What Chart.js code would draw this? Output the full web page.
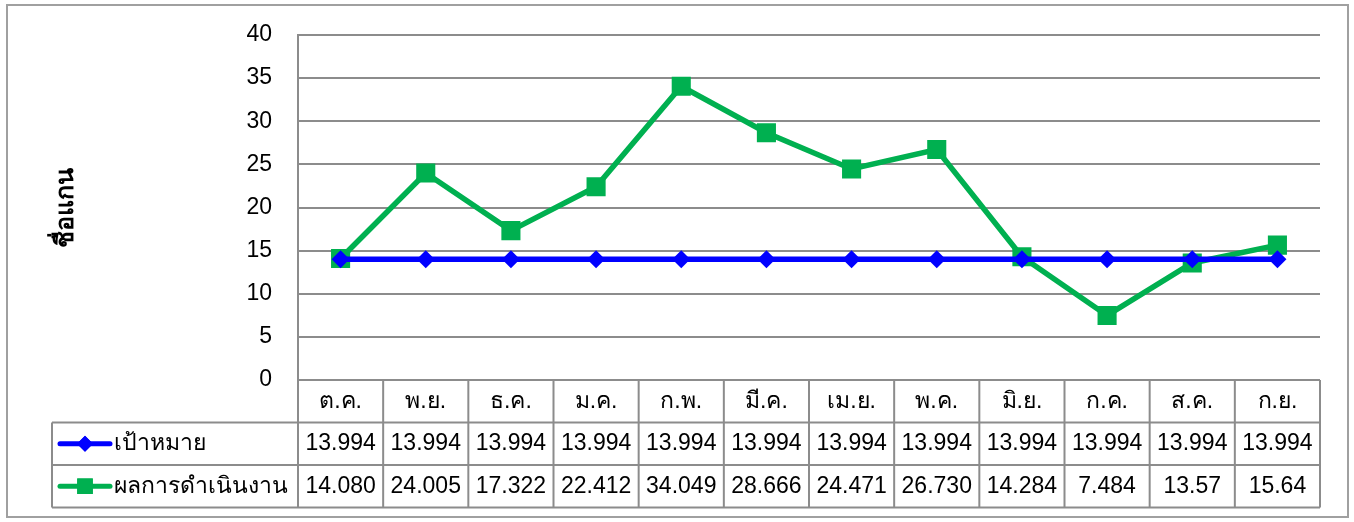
<!DOCTYPE html>
<html>
<head>
<meta charset="utf-8">
<script src="https://cdn.jsdelivr.net/npm/chart.js@4"></script>
<style>
    html, body { margin: 0; padding: 0; background: #fff; }
    #wrap { width: 1354px; height: 522px; position: relative; }
</style>
</head>
<body>
<div id="wrap"><canvas id="lineChart"></canvas></div>
<script>
// --- Data ---
const months = ['ต.ค.', 'พ.ย.', 'ธ.ค.', 'ม.ค.', 'ก.พ.', 'มี.ค.', 'เม.ย.', 'พ.ค.', 'มิ.ย.', 'ก.ค.', 'ส.ค.', 'ก.ย.'];
const targetText = ['13.994', '13.994', '13.994', '13.994', '13.994', '13.994', '13.994', '13.994', '13.994', '13.994', '13.994', '13.994'];
const actualText = ['14.080', '24.005', '17.322', '22.412', '34.049', '28.666', '24.471', '26.730', '14.284', '7.484', '13.57', '15.64'];
const targetValues = targetText.map(Number);
const actualValues = actualText.map(Number);
const seriesNames = ['เป้าหมาย', 'ผลการดำเนินงาน'];
const yTicks = [0, 5, 10, 15, 20, 25, 30, 35, 40];
const yTitle = 'ชื่อแกน';

const FONT = '"Liberation Sans", "Noto Sans", sans-serif';
const GRID = '#8c8c8c';
const BLUE = '#0000ff';
const GREEN = '#00b050';

// --- Frame, y title and data table below the plot ---
const tablePlugin = {
    id: 'dataTable',
    beforeDraw(chart) {
        const ctx = chart.ctx;
        ctx.save();
        ctx.strokeStyle = '#a0a0a0';
        ctx.lineWidth = 2;
        ctx.strokeRect(7, 5, 1341, 512);
        ctx.restore();
    },
    afterDraw(chart) {
        const ctx = chart.ctx;
        const area = chart.chartArea;
        const x = chart.scales.x;
        const colW = (area.right - area.left) / months.length;
        const top = area.bottom;
        const rowH = 42.5;
        const legendLeft = 52;
        const bottom = top + rowH * 3;

        ctx.save();
        ctx.strokeStyle = GRID;
        ctx.lineWidth = 2;
        ctx.beginPath();
        // horizontal lines
        ctx.moveTo(area.left, top); ctx.lineTo(area.right, top);
        for (let r = 1; r <= 3; r++) {
            ctx.moveTo(legendLeft, top + rowH * r); ctx.lineTo(area.right, top + rowH * r);
        }
        // vertical lines
        for (let c = 0; c <= months.length; c++) {
            const px = area.left + colW * c;
            ctx.moveTo(px, top); ctx.lineTo(px, bottom);
        }
        ctx.moveTo(legendLeft, top + rowH); ctx.lineTo(legendLeft, bottom);
        ctx.stroke();

        // texts
        ctx.fillStyle = '#000';
        ctx.font = '23px ' + FONT;
        ctx.textAlign = 'center';
        ctx.textBaseline = 'middle';
        months.forEach((m, i) => {
            const cx = x.getPixelForValue(i);
            ctx.fillText(m, cx, top + rowH * 0.5);
            ctx.fillText(targetText[i], cx, top + rowH * 1.5);
            ctx.fillText(actualText[i], cx, top + rowH * 2.5);
        });

        // legend keys
        const keys = [
            { color: BLUE, y: top + rowH * 1.5, style: 'rectRot', r: 8 },
            { color: GREEN, y: top + rowH * 2.5, style: 'rect', r: 11 }
        ];
        keys.forEach((k, i) => {
            ctx.strokeStyle = k.color;
            ctx.fillStyle = k.color;
            ctx.lineWidth = 5;
            ctx.lineCap = 'round';
            ctx.beginPath();
            ctx.moveTo(60, k.y); ctx.lineTo(110, k.y);
            ctx.stroke();
            Chart.helpers.drawPoint(ctx, { pointStyle: k.style, radius: k.r, borderWidth: 0 }, 85, k.y);
            ctx.fill();
            ctx.fillStyle = '#000';
            ctx.textAlign = 'left';
            ctx.fillText(seriesNames[i], 114, k.y);
        });

        // y axis title
        ctx.translate(66, (area.top + area.bottom) / 2);
        ctx.rotate(-Math.PI / 2);
        ctx.font = 'bold 25px ' + FONT;
        ctx.textAlign = 'center';
        ctx.fillStyle = '#000';
        ctx.fillText(yTitle, 0, 0);
        ctx.restore();
    }
};

const ctx = document.getElementById('lineChart').getContext('2d');
new Chart(ctx, {
    type: 'line',
    data: {
        labels: months,
        datasets: [{
            label: seriesNames[0],
            data: targetValues,
            borderColor: BLUE,
            backgroundColor: BLUE,
            borderWidth: 5.5,
            pointStyle: 'rectRot',
            pointRadius: 9,
            pointBorderWidth: 0,
            tension: 0
        }, {
            label: seriesNames[1],
            data: actualValues,
            borderColor: GREEN,
            backgroundColor: GREEN,
            borderWidth: 5.5,
            pointStyle: 'rect',
            pointRadius: 13.5,
            pointBorderWidth: 0,
            tension: 0
        }]
    },
    options: {
        responsive: true,
        maintainAspectRatio: false,
        animation: false,
        layout: { autoPadding: false, padding: { left: 0, top: 35, right: 34, bottom: 142 } },
        scales: {
            x: {
                display: false,
                offset: true
            },
            y: {
                min: 0,
                max: 40,
                afterFit(scale) { scale.width = 298; scale.paddingTop = 0; scale.paddingBottom = 0; },
                afterBuildTicks(scale) { scale.ticks = yTicks.map(v => ({ value: v })); },
                grid: { color: GRID, lineWidth: 2, drawTicks: false },
                border: { color: GRID, width: 2 },
                ticks: {
                    padding: 26,
                    color: '#000',
                    font: { family: FONT, size: 23 }
                }
            }
        },
        plugins: {
            legend: { display: false },
            tooltip: { enabled: false }
        }
    },
    plugins: [tablePlugin]
});
</script>
</body>
</html>
